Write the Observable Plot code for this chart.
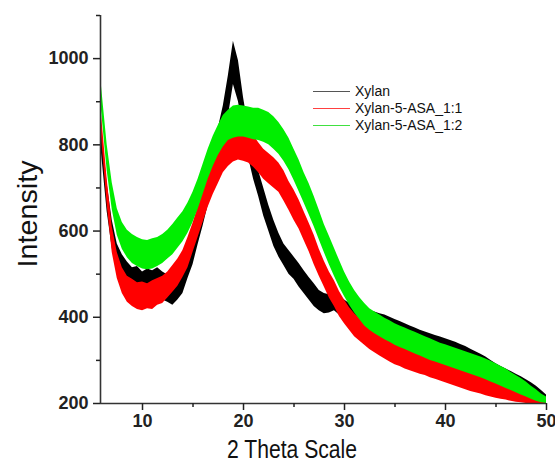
<!DOCTYPE html>
<html>
<head>
<meta charset="utf-8">
<script src="https://cdn.jsdelivr.net/npm/d3@7"></script>
<script src="https://cdn.jsdelivr.net/npm/@observablehq/plot@0.6"></script>
<style>
  body { margin: 0; background: #fff; }
  #wrap { position: relative; width: 555px; height: 467px; font-family: "Liberation Sans", Arial, sans-serif; }
  #legend { position: absolute; left: 313px; top: 83px; font-size: 14px; color: #111; line-height: 17px; }
  #legend .row { display: flex; align-items: center; height: 17px; }
  #legend .sw { width: 37px; height: 0; border-top: 1.5px solid; margin-right: 5px; }
</style>
</head>
<body>
<div id="wrap"><div id="legend"></div></div>
<script>
// 2θ positions (degrees)
const twoTheta = [5.9,6.5,7,7.5,8,8.5,9,9.5,10,10.5,11,11.5,12,12.5,13,13.5,14,14.5,15,15.5,16,16.5,17,17.5,18,18.5,19,19.5,20,20.5,21,21.5,22,22.5,23,23.5,24,24.5,25,25.5,26,26.5,27,27.5,28,28.5,29,29.5,30,30.5,31,31.5,32,32.5,33,33.5,34,34.5,35,35.5,36,36.5,37,37.5,38,38.5,39,39.5,40,40.5,41,41.5,42,42.5,43,43.5,44,44.5,45,45.5,46,46.5,47,47.5,48,48.5,49,49.5,50];

// Noise envelopes (lower / upper)
const xylanLo = [790,645,560,505,478,462,450,445,440,445,442,450,440,435,428,440,455,490,522,568,612,660,712,760,808,865,940,900,830,770,720,680,635,600,565,540,520,500,488,470,455,440,425,415,408,410,415,405,395,390,385,380,375,370,365,360,355,350,345,340,335,330,326,322,318,314,310,306,302,298,295,290,285,280,275,268,262,256,250,245,240,235,230,225,220,215,210,205,200];
const xylanHi = [850,710,625,570,545,528,515,518,505,512,508,515,505,498,500,510,525,560,598,640,690,738,790,838,890,960,1040,995,910,840,785,740,700,660,625,595,570,555,540,525,508,492,478,462,455,452,462,450,440,432,428,425,420,416,412,408,405,400,395,390,385,380,375,370,366,362,358,354,350,346,342,337,332,326,320,314,308,300,292,286,280,274,268,262,255,248,240,230,220];

const asa11Lo = [830,660,550,490,455,435,425,418,415,420,418,428,432,445,458,472,492,515,550,585,620,655,685,710,735,750,760,765,762,758,748,735,720,710,700,690,670,648,625,605,578,552,522,495,470,445,425,402,385,370,355,345,335,325,318,310,303,296,290,286,280,276,272,268,265,260,256,252,248,244,240,236,232,228,225,222,218,215,212,210,208,205,203,202,200,200,200,200,200];
const asa11Hi = [880,720,610,550,515,495,488,480,482,478,485,490,495,505,520,535,555,585,618,655,690,725,755,780,805,820,830,838,835,830,822,805,790,780,770,758,740,715,695,672,645,618,590,558,530,505,485,460,440,422,408,398,388,378,370,362,355,345,338,334,330,325,322,316,312,308,304,300,296,292,288,284,280,276,272,268,264,258,255,250,245,240,236,230,225,220,215,212,208];

const asa12Lo = [890,740,650,590,558,538,525,518,512,510,512,518,525,535,545,560,575,595,620,650,685,720,750,775,795,810,815,818,818,815,812,810,806,800,790,778,762,742,718,692,665,638,610,580,550,522,495,470,448,428,410,395,380,370,362,355,348,342,335,330,325,320,315,310,305,300,296,292,288,284,280,276,272,268,264,260,255,250,245,240,235,230,225,220,215,210,205,202,200];
const asa12Hi = [945,800,712,652,620,602,592,585,580,578,582,585,592,602,615,630,645,665,690,720,755,790,820,845,868,880,890,892,890,888,885,885,880,875,865,852,835,815,790,765,735,710,680,648,615,588,560,532,505,482,462,446,432,420,412,405,398,392,385,380,375,370,365,360,355,350,345,340,336,332,328,324,320,316,312,308,303,298,292,286,280,272,265,258,250,240,232,222,215];

const seriesNames = ["Xylan", "Xylan-5-ASA_1:1", "Xylan-5-ASA_1:2"];
const seriesColors = ["#000000", "#ff0000", "#00ee00"];
const legendColors = ["#555555", "#ff4040", "#40e040"];
const xTicks = [10, 20, 30, 40, 50];
const xMinor = [15, 25, 35, 45];
const yTicks = [200, 400, 600, 800, 1000];
const yMinor = [300, 500, 700, 900, 1100];

const los = [xylanLo, asa11Lo, asa12Lo];
const his = [xylanHi, asa11Hi, asa12Hi];
const rows = [];
seriesNames.forEach((name, s) => {
  twoTheta.forEach((x, i) => rows.push({series: name, x, lo: los[s][i], hi: his[s][i]}));
});

const xDomain = [5.84, 50];
const yDomain = [200, 1100];

const marks = seriesNames.map((name, s) =>
  Plot.areaY(rows.filter(d => d.series === name), {x: "x", y1: "lo", y2: "hi", fill: seriesColors[s], clip: true})
);

const chart = Plot.plot({
  width: 555,
  height: 467,
  marginLeft: 100,
  marginRight: 9,
  marginTop: 15,
  marginBottom: 64,
  x: {domain: xDomain},
  y: {domain: yDomain},
  style: {fontFamily: "'Liberation Sans', Arial, sans-serif", fontSize: "18px", fontWeight: "bold", color: "#222", background: "#fff"},
  marks: [
    ...marks,
    Plot.ruleX([xDomain[0]], {stroke: "#333", strokeWidth: 1.6}),
    Plot.ruleY([yDomain[0]], {stroke: "#333", strokeWidth: 1.6}),
    Plot.axisX({ticks: xTicks, tickSize: 7, tickPadding: 4, tickFormat: "d", label: null, strokeWidth: 1.5}),
    Plot.axisX({ticks: xMinor, tickSize: 4, tickFormat: () => "", label: null, strokeWidth: 1.5}),
    Plot.axisY({ticks: yTicks, tickSize: 7, tickPadding: 5, tickFormat: "d", label: null, strokeWidth: 1.5}),
    Plot.axisY({ticks: yMinor, tickSize: 4, tickFormat: () => "", label: null, strokeWidth: 1.5})
  ]
});

const wrap = document.getElementById("wrap");
wrap.insertBefore(chart, wrap.firstChild);

const svg = d3.select(chart);
// keep the last x tick label inside the frame
svg.selectAll("text").filter(function () { return this.textContent === "50"; })
  .attr("text-anchor", "end").attr("dx", 10);

// Axis titles
svg.append("text")
  .attr("x", 292).attr("y", 458)
  .attr("text-anchor", "middle")
  .attr("font-size", 26).attr("font-weight", "normal").attr("fill", "#111")
  .attr("textLength", 130).attr("lengthAdjust", "spacingAndGlyphs")
  .text("2 Theta Scale");
svg.append("text")
  .attr("transform", "translate(37,214) rotate(-90)")
  .attr("text-anchor", "middle")
  .attr("font-size", 28).attr("font-weight", "normal").attr("fill", "#111")
  .attr("textLength", 107).attr("lengthAdjust", "spacingAndGlyphs")
  .text("Intensity");

// Legend
const legend = d3.select("#legend");
seriesNames.forEach((name, s) => {
  const row = legend.append("div").attr("class", "row");
  row.append("span").attr("class", "sw").style("border-top-color", legendColors[s]);
  row.append("span").text(name);
});
</script>
</body>
</html>
